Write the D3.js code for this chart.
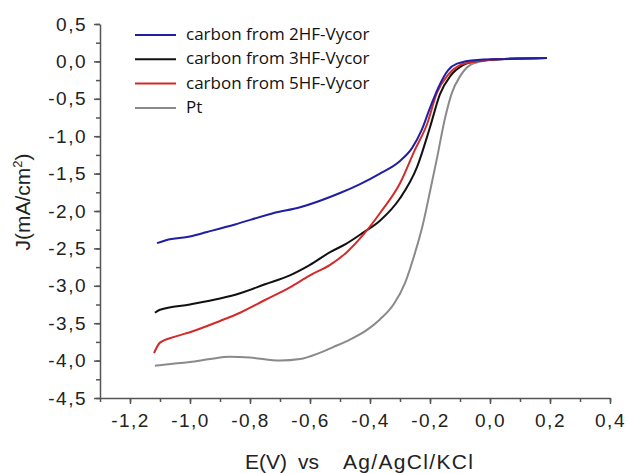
<!DOCTYPE html>
<meta charset="utf-8">
<style>
  body { margin: 0; background: #fff; }
  .tick text { font-family: "Liberation Sans", Arial, sans-serif; font-size: 19px; fill: #222; letter-spacing: 1.5px; }
  .axis path, .axis line { stroke: #555; stroke-width: 1.5; }
  .legend text { font-family: "Open Sans", sans-serif; font-size: 17px; fill: #111; }
  .title { font-family: "Liberation Sans", Arial, sans-serif; font-size: 21px; fill: #222; }
</style>
<body>
<script src="https://d3js.org/d3.v7.min.js"></script>
<script>
// series (E in V, J in mA/cm2)
var e2HF = [-1.11, -1.08, -1.0, -0.943, -0.85, -0.723, -0.633, -0.5, -0.433, -0.367, -0.3, -0.26, -0.228, -0.2, -0.17, -0.14, -0.11, -0.043, 0.03, 0.19];
var j2HF = [-2.43, -2.39, -2.34, -2.28, -2.18, -2.03, -1.95, -1.76, -1.64, -1.50, -1.33, -1.16, -0.92, -0.62, -0.33, -0.12, -0.03, 0.02, 0.03, 0.045];

var e3HF = [-1.117, -1.1, -1.0, -0.9, -0.833, -0.75, -0.667, -0.6, -0.533, -0.48, -0.423, -0.367, -0.3, -0.243, -0.2, -0.167, -0.133, -0.09, -0.05, 0.03, 0.19];
var j3HF = [-3.36, -3.32, -3.25, -3.17, -3.10, -2.98, -2.86, -2.72, -2.55, -2.44, -2.29, -2.13, -1.83, -1.41, -0.88, -0.44, -0.2, -0.05, 0.0, 0.03, 0.045];

var e5HF = [-1.12, -1.1, -1.05, -1.0, -0.9, -0.833, -0.75, -0.667, -0.6, -0.533, -0.48, -0.423, -0.367, -0.3, -0.25, -0.21, -0.177, -0.14, -0.1, -0.05, 0.03, 0.19];
var j5HF = [-3.90, -3.76, -3.68, -3.62, -3.47, -3.36, -3.19, -3.02, -2.86, -2.72, -2.56, -2.32, -2.03, -1.63, -1.18, -0.84, -0.42, -0.18, -0.05, 0.0, 0.03, 0.045];

var ePt = [-1.117, -1.05, -1.0, -0.933, -0.867, -0.8, -0.7, -0.633, -0.57, -0.523, -0.467, -0.41, -0.367, -0.32, -0.283, -0.25, -0.225, -0.2, -0.177, -0.15, -0.127, -0.1, -0.067, -0.03, 0.03, 0.19];
var jPt = [-4.07, -4.04, -4.02, -3.98, -3.95, -3.96, -4.00, -3.98, -3.90, -3.82, -3.72, -3.59, -3.45, -3.24, -2.96, -2.56, -2.2, -1.74, -1.3, -0.76, -0.42, -0.2, -0.05, 0.0, 0.03, 0.045];

var names = ["carbon from 2HF-Vycor", "carbon from 3HF-Vycor", "carbon from 5HF-Vycor", "Pt"];
var colors = ["#1f1fa0", "#111111", "#d42a2a", "#8a8a8a"];

var xTicks = [-1.2, -1.0, -0.8, -0.6, -0.4, -0.2, 0.0, 0.2, 0.4];
var yTicks = [0.5, 0.0, -0.5, -1.0, -1.5, -2.0, -2.5, -3.0, -3.5, -4.0, -4.5];

var width = 629, height = 473;
var svg = d3.select("body").append("svg")
    .attr("width", width)
    .attr("height", height);

var x = d3.scaleLinear().domain([-1.3, 0.4]).range([100, 610]);
var y = d3.scaleLinear().domain([-4.5, 0.5]).range([398, 24]);

var fmt = function(d) { return d3.format(".1f")(d).replace("−", "-").replace(".", ","); };

// minor ticks first
svg.append("g").attr("class", "axis")
    .attr("transform", "translate(0,398)")
    .call(d3.axisBottom(x).tickValues(d3.range(-13, 5).map(function(i) { return i / 10; })).tickSize(4).tickFormat(""))
    .select(".domain").remove();
svg.append("g").attr("class", "axis")
    .attr("transform", "translate(100,0)")
    .call(d3.axisLeft(y).tickValues(d3.range(-18, 3).map(function(i) { return i / 4; })).tickSize(4).tickFormat(""))
    .select(".domain").remove();

svg.append("g").attr("class", "axis")
    .attr("transform", "translate(0,398)")
    .call(d3.axisBottom(x).tickValues(xTicks).tickSize(6).tickSizeOuter(0).tickPadding(10).tickFormat(fmt));
svg.append("g").attr("class", "axis")
    .attr("transform", "translate(100,0)")
    .call(d3.axisLeft(y).tickValues(yTicks).tickSize(6).tickSizeOuter(0).tickPadding(7).tickFormat(fmt));

var series = [
  { e: ePt, j: jPt, c: 3 },
  { e: e3HF, j: j3HF, c: 1 },
  { e: e5HF, j: j5HF, c: 2 },
  { e: e2HF, j: j2HF, c: 0 }
];

var line = d3.line()
    .x(function(d) { return x(d[0]); })
    .y(function(d) { return y(d[1]); })
    .curve(d3.curveMonotoneX);

series.forEach(function(s) {
  svg.append("path")
    .datum(d3.zip(s.e, s.j))
    .attr("fill", "none")
    .attr("stroke", colors[s.c])
    .attr("stroke-width", 2)
    .attr("d", line);
});

// legend
var lg = svg.append("g").attr("class", "legend");
names.forEach(function(n, i) {
  var yy = 35 + i * 24.3;
  lg.append("line").attr("x1", 135).attr("x2", 176).attr("y1", yy).attr("y2", yy)
    .attr("stroke", colors[i]).attr("stroke-width", 2);
  lg.append("text").attr("x", 186).attr("y", yy + 5).text(n);
});

// axis titles
svg.append("text").attr("class", "title").attr("x", 245).attr("y", 469).text("E(V)");
svg.append("text").attr("class", "title").attr("x", 298).attr("y", 469).text("vs");
svg.append("text").attr("class", "title").attr("x", 343).attr("y", 469)
    .attr("textLength", 130).text("Ag/AgCl/KCl");

var yt = svg.append("text").attr("class", "title")
    .attr("transform", "translate(30,202) rotate(-90)")
    .attr("text-anchor", "middle");
yt.append("tspan").text("J(mA/cm");
yt.append("tspan").attr("dy", -8).style("font-size", "13px").text("2");
yt.append("tspan").attr("dy", 8).text(")");
</script>
</body>
